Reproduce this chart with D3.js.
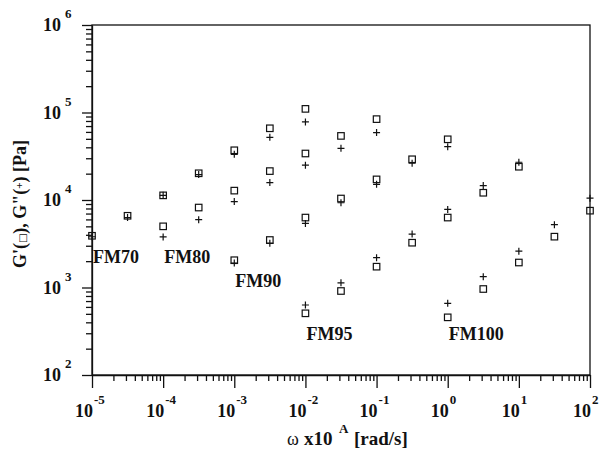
<!DOCTYPE html>
<html>
<head>
<meta charset="utf-8">
<script src="https://cdn.jsdelivr.net/npm/d3@7"></script>
<style>
body { margin: 0; background: #fff; }
svg text { font-family: "Liberation Serif", "Times New Roman", serif; font-weight: bold; fill: #111; }
</style>
</head>
<body>
<div id="chart"></div>
<script>
// frequency sweeps for each sample (rad/s, before shifting)
var omega70  = [1e-5, 3.16e-5, 1e-4, 3.16e-4, 1e-3, 3.16e-3, 1e-2];
var omega80  = [1e-4, 3.16e-4, 1e-3, 3.16e-3, 1e-2, 3.16e-2, 1e-1];
var omega90  = [1e-3, 3.16e-3, 1e-2, 3.16e-2, 1e-1, 3.16e-1, 1];
var omega95  = [1e-2, 3.16e-2, 1e-1, 3.16e-1, 1, 3.16, 10];
var omega100 = [1, 3.16, 10, 31.6, 100];

// storage modulus G' (Pa)
var gp70  = [3900, 6600, 11300, 20200, 37000, 66000, 110000];
var gp80  = [5000, 8200, 12800, 21400, 34000, 54000, 84000];
var gp90  = [2050, 3490, 6300, 10400, 17200, 29200, 49400];
var gp95  = [507, 912, 1730, 3250, 6300, 12100, 24000];
var gp100 = [456, 961, 1930, 3810, 7550];

// loss modulus G'' (Pa)
var gpp70  = [3800, 6300, 11300, 19500, 33300, 52000, 78000];
var gpp80  = [3780, 5960, 9600, 15800, 25000, 39000, 59000];
var gpp90  = [1900, 3200, 5400, 9300, 15100, 26300, 40700];
var gpp95  = [631, 1130, 2190, 4080, 7800, 14600, 27000];
var gpp100 = [659, 1330, 2600, 5220, 10500];

var sampleNames = ['FM70', 'FM80', 'FM90', 'FM95', 'FM100'];
var labelOmega  = [1e-5, 1e-4, 1e-3, 1e-2, 1];
var labelG      = [1900, 1900, 1020, 251, 251];

var xExponents = [-5, -4, -3, -2, -1, 0, 1, 2];
var yExponents = [2, 3, 4, 5, 6];

var width = 602, height = 451;
var plotLeft = 92, plotRight = 590, plotTop = 25, plotBottom = 375;
var ink = '#111';

var svg = d3.select('#chart')
    .append('svg')
    .attr('width', width)
    .attr('height', height);

var x = d3.scaleLog().domain([1e-5, 1e2]).range([plotLeft, plotRight]);
var y = d3.scaleLog().domain([1e2, 1e6]).range([plotBottom, plotTop]);

// all decade + minor positions
function logTicks(lo, hi) {
    var out = [];
    for (var e = lo; e < hi; e++) {
        for (var m = 1; m < 10; m++) out.push(m * Math.pow(10, e));
    }
    out.push(Math.pow(10, hi));
    return out;
}
function isMajor(v) {
    var l = Math.log10(v);
    return Math.abs(l - Math.round(l)) < 1e-6;
}

// frame
svg.append('rect')
    .attr('x', plotLeft).attr('y', plotTop)
    .attr('width', plotRight - plotLeft).attr('height', plotBottom - plotTop)
    .attr('fill', 'none').attr('stroke', ink).attr('stroke-width', 1.3);

var xAxis = svg.append('g')
    .attr('transform', 'translate(0,' + plotBottom + ')')
    .call(d3.axisBottom(x).tickValues(logTicks(-5, 2)).tickFormat('').tickSizeOuter(0));
xAxis.selectAll('.tick line')
    .attr('y2', function(d) { return isMajor(d) ? 13 : 6; });

var yAxis = svg.append('g')
    .attr('transform', 'translate(' + plotLeft + ',0)')
    .call(d3.axisLeft(y).tickValues(logTicks(2, 6)).tickFormat('').tickSizeOuter(0));
yAxis.selectAll('.tick line')
    .attr('x2', function(d) { return isMajor(d) ? -10 : -6; });

svg.selectAll('.domain, .tick line')
    .attr('stroke', ink).attr('stroke-width', 1.3);

// 10^n tick labels
var xLab = svg.selectAll('.xlab')
    .data(xExponents)
    .enter().append('g')
    .attr('class', 'xlab')
    .attr('transform', function(d) { return 'translate(' + x(Math.pow(10, d)) + ',417)'; });
xLab.append('text').attr('text-anchor', 'end').attr('x', 1)
    .style('font-size', '18px').text('10');
xLab.append('text').attr('x', 2).attr('y', -13)
    .style('font-size', '13px').text(function(d) { return d; });

var yLab = svg.selectAll('.ylab')
    .data(yExponents)
    .enter().append('g')
    .attr('class', 'ylab')
    .attr('transform', function(d) { return 'translate(0,' + y(Math.pow(10, d)) + ')'; });
yLab.append('text').attr('x', 43).attr('y', 6)
    .style('font-size', '18px').text('10');
yLab.append('text').attr('x', 65).attr('y', -7)
    .style('font-size', '13px').text(function(d) { return d; });

// data markers
var series = [
    { w: omega70,  gp: gp70,  gpp: gpp70 },
    { w: omega80,  gp: gp80,  gpp: gpp80 },
    { w: omega90,  gp: gp90,  gpp: gpp90 },
    { w: omega95,  gp: gp95,  gpp: gpp95 },
    { w: omega100, gp: gp100, gpp: gpp100 }
];
var squares = [], pluses = [];
series.forEach(function(s) {
    s.w.forEach(function(w, i) {
        squares.push({ w: w, g: s.gp[i] });
        pluses.push({ w: w, g: s.gpp[i] });
    });
});

var sq = 6.5, pl = 3.5;
svg.selectAll('.gp')
    .data(squares)
    .enter().append('rect')
    .attr('class', 'gp')
    .attr('x', function(d) { return x(d.w) - sq / 2; })
    .attr('y', function(d) { return y(d.g) - sq / 2; })
    .attr('width', sq).attr('height', sq)
    .attr('fill', 'none').attr('stroke', ink).attr('stroke-width', 1.2);

svg.selectAll('.gpp')
    .data(pluses)
    .enter().append('path')
    .attr('class', 'gpp')
    .attr('d', function(d) {
        var cx = x(d.w), cy = y(d.g);
        return 'M' + (cx - pl) + ',' + cy + 'H' + (cx + pl) +
               'M' + cx + ',' + (cy - pl) + 'V' + (cy + pl);
    })
    .attr('fill', 'none').attr('stroke', ink).attr('stroke-width', 1.2);

// sample names
svg.selectAll('.fm')
    .data(sampleNames)
    .enter().append('text')
    .attr('class', 'fm')
    .attr('x', function(d, i) { return x(labelOmega[i]) + 1; })
    .attr('y', function(d, i) { return y(labelG[i]); })
    .style('font-size', '18px')
    .text(function(d) { return d; });

// axis titles
var xt = svg.append('g').attr('transform', 'translate(287,445)');
xt.append('text').attr('x', 0).style('font-size', '18px').style('font-weight', 'normal').text('ω');
xt.append('text').attr('x', 17).style('font-size', '19px').text('x10');
xt.append('text').attr('x', 52).attr('y', -12).style('font-size', '13px').text('A');
xt.append('text').attr('x', 67).style('font-size', '19px').text('[rad/s]');

var yt = svg.append('text')
    .attr('transform', 'translate(26,204) rotate(-90)')
    .attr('text-anchor', 'middle')
    .style('font-size', '18px');
yt.append('tspan').text("G'(");
yt.append('tspan').style('font-size', '10px').style('font-family', 'DejaVu Sans').style('font-weight', 'normal').text('□');
yt.append('tspan').text('), G"(');
yt.append('tspan').style('font-size', '11px').attr('dy', -3).text('+');
yt.append('tspan').attr('dy', 3).text(') [Pa]');
</script>
</body>
</html>
